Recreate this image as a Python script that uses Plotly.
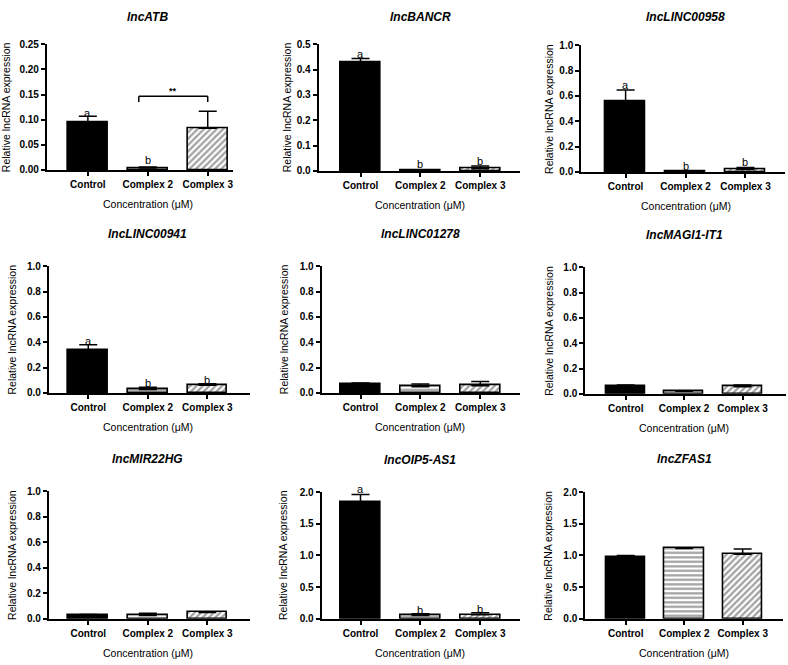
import plotly.graph_objects as go

W, H = 788, 665

categories = ["Control", "Complex 2", "Complex 3"]
genes = ["lncATB", "lncBANCR", "lncLINC00958",
         "lncLINC00941", "lncLINC01278", "lncMAGI1-IT1",
         "lncMIR22HG", "lncOIP5-AS1", "lncZFAS1"]

# mean values (Control, Complex 2, Complex 3)
atb_mean = [0.094, 0.004, 0.083]
bancr_mean = [0.427, 0.001, 0.009]
linc00958_mean = [0.561, 0.005, 0.020]
linc00941_mean = [0.336, 0.026, 0.060]
linc01278_mean = [0.070, 0.049, 0.057]
magi1_mean = [0.057, 0.020, 0.057]
mir22hg_mean = [0.026, 0.026, 0.049]
oip5_mean = [1.835, 0.052, 0.062]
zfas1_mean = [0.977, 1.110, 1.018]

# upper error (SD)
atb_err = [0.013, 0.002, 0.034]
bancr_err = [0.017, 0.0, 0.011]
linc00958_err = [0.085, 0.003, 0.016]
linc00941_err = [0.044, 0.018, 0.012]
linc01278_err = [0.008, 0.021, 0.033]
magi1_err = [0.013, 0.003, 0.013]
mir22hg_err = [0.007, 0.018, 0.003]
oip5_err = [0.125, 0.026, 0.031]
zfas1_err = [0.023, 0.005, 0.082]

# y-axis maxima and tick steps
y_max = [0.25, 0.5, 1.0, 1.0, 1.0, 1.0, 1.0, 2.0, 2.0]
y_step = [0.05, 0.1, 0.2, 0.2, 0.2, 0.2, 0.2, 0.5, 0.5]
y_fmt = [".2f", ".1f", ".1f", ".1f", ".1f", ".1f", ".1f", ".1f", ".1f"]

# significance letters: (panel, category index, y, text)
letters = [
    (0, 0, 0.114, "a"), (0, 1, 0.020, "b"),
    (1, 0, 0.460, "a"), (1, 1, 0.028, "b"), (1, 2, 0.040, "b"),
    (2, 0, 0.690, "a"), (2, 1, 0.044, "b"), (2, 2, 0.080, "b"),
    (3, 0, 0.410, "a"), (3, 1, 0.078, "b"), (3, 2, 0.100, "b"),
    (7, 0, 2.040, "a"), (7, 1, 0.145, "b"), (7, 2, 0.150, "b"),
]
# bracket on lncATB between Complex 2 and Complex 3
bracket_x = [0.85, 2.0]
bracket_y = [0.135, 0.1465]
bracket_label = "**"
bracket_label_y = 0.157

means = [atb_mean, bancr_mean, linc00958_mean, linc00941_mean, linc01278_mean,
         magi1_mean, mir22hg_mean, oip5_mean, zfas1_mean]
errs = [atb_err, bancr_err, linc00958_err, linc00941_err, linc01278_err,
        magi1_err, mir22hg_err, oip5_err, zfas1_err]

# layout in pixels: x0, x1 (axis extent), ytop, ybottom, x range, title y, ytitle x
panels = [
    (47, 233, 39, 167, [-0.683, 2.417], 11, 6),
    (319, 521, 39, 168, [-0.70, 2.67], 11, 287),
    (582, 786, 40, 169, [-0.74, 2.66], 11, 549),
    (49, 250, 265, 394, [-0.66, 2.71], 232, 12),
    (322, 521, 265, 394, [-0.65, 2.67], 232, 284),
    (586, 787, 266, 395, [-0.692, 2.744], 233, 549),
    (49, 250, 494, 624, [-0.66, 2.71], 461, 12),
    (322, 521, 495, 624, [-0.65, 2.67], 462, 284),
    (586, 784, 495, 624, [-0.692, 2.69], 461, 549),
]

FONT = "Liberation Sans, Arial, sans-serif"
BLACK = "#000000"
fig = go.Figure()
annotations = []
shapes = []

for i, (x0, x1, yt, yb, xr, ty, ytx) in enumerate(panels):
    n = i + 1
    xa = "x" if n == 1 else f"x{n}"
    ya = "y" if n == 1 else f"y{n}"
    fig.add_trace(go.Bar(
        x=[0, 1, 2], y=means[i], width=0.67,
        xaxis=xa, yaxis=ya, showlegend=False,
        marker=dict(
            color=[BLACK, "white", "white"],
            line=dict(color=BLACK, width=1.6),
            pattern=dict(shape=["", "-", "/"], fgcolor=BLACK, bgcolor="white",
                         size=4.5, solidity=0.5),
        ),
        error_y=dict(type="data", symmetric=False, array=errs[i],
                     arrayminus=[0, 0, 0], color=BLACK, thickness=1.5, width=9),
    ))
    xkey = "xaxis" if n == 1 else f"xaxis{n}"
    ykey = "yaxis" if n == 1 else f"yaxis{n}"
    fig.update_layout({
        xkey: dict(domain=[x0 / W, x1 / W], range=xr, anchor=ya,
                   tickvals=[0, 1, 2], ticktext=categories,
                   showline=True, linecolor=BLACK, linewidth=2,
                   ticks="outside", ticklen=4, tickwidth=1.5, tickcolor=BLACK,
                   showgrid=False, zeroline=False,
                   tickfont=dict(family=FONT, size=10, color=BLACK, weight="bold")),
        ykey: dict(domain=[1 - yb / H, 1 - yt / H], range=[0, y_max[i]], anchor=xa,
                   dtick=y_step[i], tick0=0, tickformat=y_fmt[i],
                   showline=True, linecolor=BLACK, linewidth=2,
                   ticks="outside", ticklen=4, tickwidth=1.5, tickcolor=BLACK,
                   showgrid=False, zeroline=False,
                   tickfont=dict(family=FONT, size=10, color=BLACK, weight="bold")),
    })
    # panel title
    annotations.append(dict(x=1, xref=xa, y=1 - ty / H, yref="paper",
                            xanchor="center", yanchor="middle",
                            text=genes[i], showarrow=False,
                            font=dict(family=FONT, size=12, color=BLACK,
                                      weight="bold", style="italic")))
    # x title
    annotations.append(dict(x=1, xref=xa, y=1 - (yb + 35) / H, yref="paper",
                            xanchor="center", yanchor="middle",
                            text="Concentration (μM)", showarrow=False,
                            font=dict(family=FONT, size=10.5, color=BLACK)))
    # y title
    annotations.append(dict(x=ytx / W, xref="paper", y=1 - (yt + yb) / 2 / H, yref="paper",
                            xanchor="center", yanchor="middle",
                            text="Relative lncRNA expression", showarrow=False,
                            textangle=-90,
                            font=dict(family=FONT, size=10.5, color=BLACK)))

for (p, c, yv, t) in letters:
    n = p + 1
    xa = "x" if n == 1 else f"x{n}"
    ya = "y" if n == 1 else f"y{n}"
    x0, x1, yt, yb = panels[p][:4]
    px_per_unit = (yb - yt) / y_max[p]
    y_in = min(yv, y_max[p])
    annotations.append(dict(x=c, xref=xa, y=y_in, yref=ya, text=t, showarrow=False,
                            xanchor="center", yanchor="middle",
                            yshift=(yv - y_in) * px_per_unit,
                            font=dict(family=FONT, size=11, color=BLACK)))

# bracket
shapes.append(dict(type="line", xref="x", yref="y", x0=bracket_x[0], x1=bracket_x[1],
                   y0=bracket_y[1], y1=bracket_y[1], line=dict(color=BLACK, width=1.5)))
for bx in bracket_x:
    shapes.append(dict(type="line", xref="x", yref="y", x0=bx, x1=bx,
                       y0=bracket_y[0], y1=bracket_y[1], line=dict(color=BLACK, width=1.5)))
annotations.append(dict(x=sum(bracket_x) / 2, xref="x", y=bracket_label_y, yref="y",
                        xanchor="center", yanchor="middle",
                        text=bracket_label, showarrow=False,
                        font=dict(family=FONT, size=9, color=BLACK, weight="bold")))

fig.update_layout(width=W, height=H, margin=dict(l=0, r=0, t=0, b=0),
                  paper_bgcolor="white", plot_bgcolor="white",
                  annotations=annotations, shapes=shapes, bargap=0)
fig.write_html("out.html")
